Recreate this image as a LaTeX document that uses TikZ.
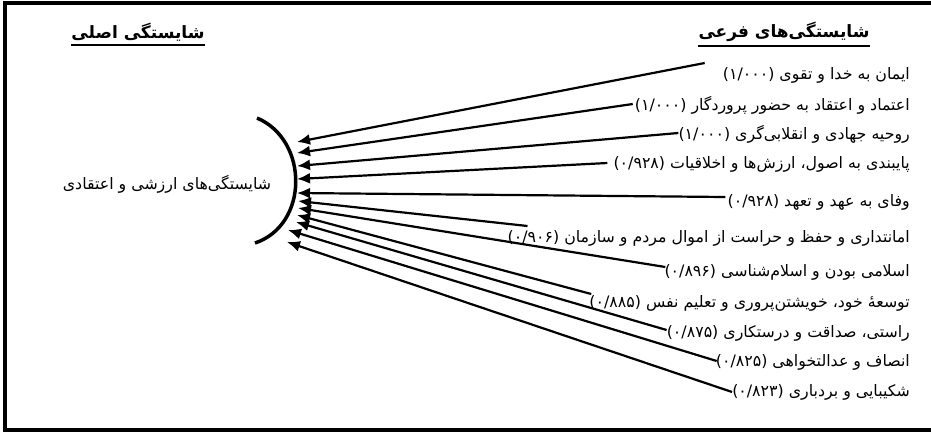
\documentclass[tikz,border=0pt]{standalone}
\usepackage{fontspec}
\usetikzlibrary{arrows.meta}
\newfontfamily\fa[Script=Arabic]{DejaVu Sans}
\TeXXeTstate=1
\newcommand{\rtltext}[1]{\beginR#1\endR}
\begin{document}
\begin{tikzpicture}[x=1pt,y=-1pt,
  lab/.style={anchor=east, inner sep=0pt, font=\fa\fontsize{15.8}{18}\selectfont},
  hdr/.style={inner sep=0pt, font=\fa\bfseries\fontsize{17}{20}\selectfont},
  mainlab/.style={inner sep=0pt, font=\fa\fontsize{15.8}{18}\selectfont},
  arr/.style={line width=2.2pt, -{Latex[length=13pt,width=11pt]}},
  uline/.style={line width=1.8pt},
  frame/.style={line width=4pt},
  bracket/.style={line width=3.5pt}]
\useasboundingbox (0,0) rectangle (931,432);
% frame (right side lies outside the page)
\draw[frame] (940,3) -- (5,3) -- (5,429.5) -- (940,429.5);
% headers
\node[hdr] (hsub) at (784,32) {\rtltext{شایستگی‌های فرعی}};
\node[hdr] (hmain) at (138,32) {\rtltext{شایستگی اصلی}};
\draw[uline] ([yshift=-4pt]hsub.south west) -- ([yshift=-4pt]hsub.south east);
\draw[uline] ([yshift=-4pt]hmain.south west) -- ([yshift=-4pt]hmain.south east);
% main node
\node[mainlab] (c) at (167,184) {\rtltext{شایستگی‌های ارزشی و اعتقادی}};
\draw[bracket] (257,118) .. controls (309,140) and (309,225) .. (255,243);
% sub labels
\node[lab] (l1) at (910,75) {\rtltext{ایمان به خدا و تقوی (۱/۰۰۰)}};
\node[lab] (l2) at (910,105) {\rtltext{اعتماد و اعتقاد به حضور پروردگار (۱/۰۰۰)}};
\node[lab] (l3) at (910,134) {\rtltext{روحیه جهادی و انقلابی‌گری (۱/۰۰۰)}};
\node[lab] (l4) at (910,164) {\rtltext{پایبندی به اصول، ارزش‌ها و اخلاقیات (۰/۹۲۸)}};
\node[lab] (l5) at (910,202) {\rtltext{وفای به عهد و تعهد (۰/۹۲۸)}};
\node[lab] (l6) at (910,238) {\rtltext{امانتداری و حفظ و حراست از اموال مردم و سازمان (۰/۹۰۶)}};
\node[lab] (l7) at (910,272) {\rtltext{اسلامی بودن و اسلام‌شناسی (۰/۸۹۶)}};
\node[lab] (l8) at (910,303) {\rtltext{توسعهٔ خود، خویشتن‌پروری و تعلیم نفس (۰/۸۸۵)}};
\node[lab] (l9) at (910,333) {\rtltext{راستی، صداقت و درستکاری (۰/۸۷۵)}};
\node[lab] (l10) at (910,362) {\rtltext{انصاف و عدالتخواهی (۰/۸۲۵)}};
\node[lab] (l11) at (910,392) {\rtltext{شکیبایی و بردباری (۰/۸۲۳)}};
% arrow tips on the bracket
\coordinate (t1) at (297,142);
\coordinate (t2) at (297,153);
\coordinate (t3) at (297,166);
\coordinate (t4) at (297,179);
\coordinate (t5) at (297,193);
\coordinate (t6) at (298,201);
\coordinate (t7) at (298,208);
\coordinate (t8) at (297,215);
\coordinate (t9) at (296,222);
\coordinate (t10) at (288,230);
\coordinate (t11) at (287,242);
% connectors
\draw[arr] ([shift={(-18pt,12pt)}]l1.west) -- (t1);
\draw[arr] ([shift={(-2pt,1pt)}]l2.west) -- (t2);
\draw[arr] ([shift={(0pt,1pt)}]l3.west) -- (t3);
\draw[arr] ([shift={(-6pt,1pt)}]l4.west) -- (t4);
\draw[arr] ([shift={(-2pt,5pt)}]l5.west) -- (t5);
\draw[arr] ([shift={(20pt,12pt)}]l6.west) -- (t6);
\draw[arr] ([shift={(1pt,5pt)}]l7.west) -- (t7);
\draw[arr] ([shift={(2pt,9pt)}]l8.west) -- (t8);
\draw[arr] ([shift={(0pt,3pt)}]l9.west) -- (t9);
\draw[arr] ([shift={(1pt,1pt)}]l10.west) -- (t10);
\draw[arr] ([shift={(0pt,0pt)}]l11.west) -- (t11);
\end{tikzpicture}
\end{document}
